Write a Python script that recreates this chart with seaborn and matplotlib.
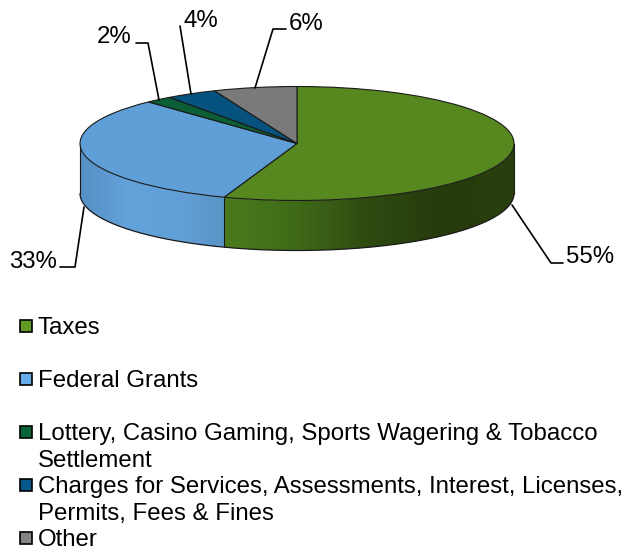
import numpy as np
import matplotlib
matplotlib.use('Agg')
import matplotlib.pyplot as plt
from matplotlib.patches import Rectangle, Polygon
import seaborn as sns

categories = ['Taxes', 'Federal Grants',
              'Lottery, Casino Gaming, Sports Wagering & Tobacco\nSettlement',
              'Charges for Services, Assessments, Interest, Licenses,\nPermits, Fees & Fines',
              'Other']
shares = [55.45, 32.55, 2.0, 3.8, 6.2]

top_colors = ['#56881F', '#5F9ED6', '#0B5E35', '#05527F', '#7A7A7A']
legend_colors = ['#5F9B24', '#66ACE8', '#0A6339', '#05588A', '#848484']

sns.set_theme(style='white')
plt.rcParams['font.family'] = ['Liberation Sans', 'DejaVu Sans']

W, H = 626, 547
cx, cy, rx, ry, depth = 297, 143.5, 217, 57, 50
fig = plt.figure(figsize=(W / 100, H / 100), dpi=100)

# pie axes, one data unit = the ellipse radii
ax = fig.add_axes([0, 0, 1, 1])
wedges, _ = ax.pie(shares, colors=top_colors, startangle=90, counterclock=False,
                   wedgeprops=dict(edgecolor='#1a1a1a', linewidth=0.8))
for w in wedges:
    w.set_zorder(5)

# side wall, only the front half of the disc shows
d = depth / ry
cuts = np.concatenate([[0], np.cumsum(shares)]) * 3.6
wall_ramps = {
    0: sns.blend_palette(['#4A7A1D', '#3F6A18', '#2E4A10', '#263B0C', '#2A3F0D'], 200),
    1: sns.blend_palette(['#5590C5', '#64A2DB', '#62A0D8', '#5A94C6'], 200),
}
for i, ramp in wall_ramps.items():
    lo, hi = max(cuts[i], 90), min(cuts[i + 1], 270)
    th = np.radians(np.linspace(lo, hi, 200))
    xs, ys = np.sin(th), np.cos(th)
    outline = np.column_stack([np.r_[xs, xs[::-1]], np.r_[ys, ys[::-1] - d]])
    img = ax.imshow(np.array(ramp)[None, :, :], aspect='auto', interpolation='bilinear', zorder=2,
                    extent=(xs.min(), xs.max(), ys.min() - d, ys.max()))
    img.set_clip_path(Polygon(outline, transform=ax.transData))

th = np.radians(np.linspace(90, 270, 300))
ax.plot(np.sin(th), np.cos(th) - d, color='#1a1a1a', lw=0.9, zorder=3)
for a in [90, cuts[1], 270]:
    t = np.radians(a)
    ax.plot([np.sin(t)] * 2, [np.cos(t), np.cos(t) - d], color='#1a1a1a', lw=0.8, zorder=3)

ax.set_aspect('auto')
ax.set_xlim(-cx / rx, (W - cx) / rx)
ax.set_ylim((cy - H) / ry, cy / ry)
ax.axis('off')

# labels and legend in pixel coordinates
ov = fig.add_axes([0, 0, 1, 1])
ov.set_xlim(0, W)
ov.set_ylim(H, 0)
ov.axis('off')
ov.patch.set_alpha(0)

fs = 17.3
label_spots = [(590, 257), (33, 262), (114, 37), (201, 21), (306, 24)]
leaders = [[(512, 205), (551, 263), (563, 263)],
           [(84, 207), (75, 267), (60, 267)],
           [(159, 100), (148, 43), (136, 43)],
           [(191, 94), (180, 26)],
           [(255, 88), (273, 29), (286, 29)]]
for share, spot, pts in zip(shares, label_spots, leaders):
    ov.text(spot[0], spot[1], f'{share:.0f}%', ha='center', va='center', fontsize=fs, color='black')
    ov.plot(*zip(*pts), color='black', lw=1.2)

for i, (name, col) in enumerate(zip(categories, legend_colors)):
    y = 326 + 53 * i
    ov.add_patch(Rectangle((20, y - 6), 12, 12, facecolor=col, edgecolor='black', lw=1.2))
    ov.text(38, y - 9, name, ha='left', va='top', fontsize=fs, color='black', linespacing=1.3)

fig.savefig('out.png', dpi=100)
